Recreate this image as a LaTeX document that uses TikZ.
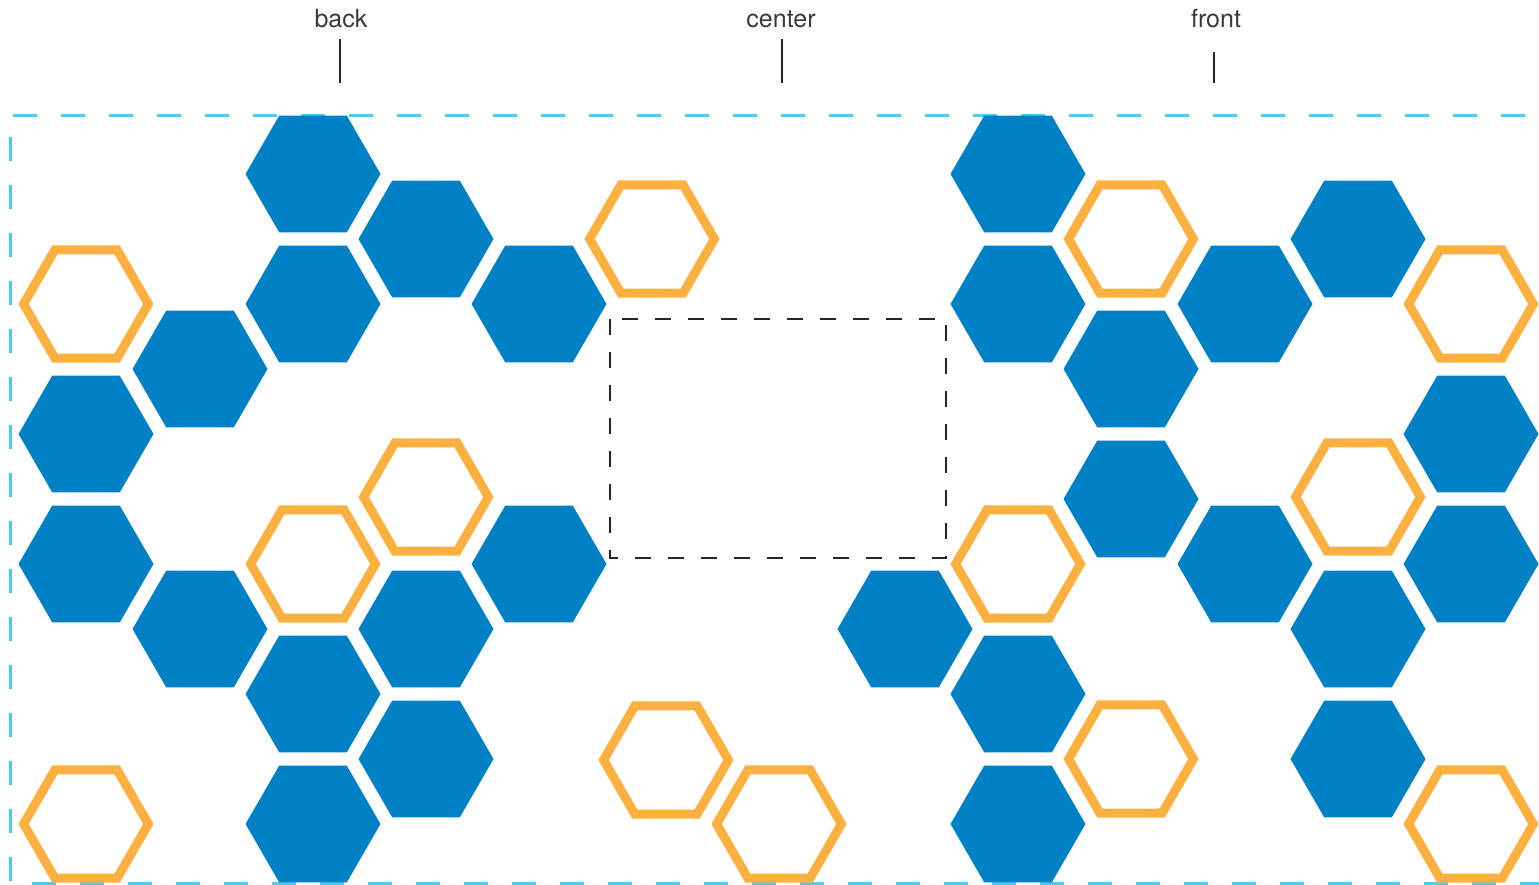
\documentclass[tikz,border=0pt]{standalone}
\usepackage{fontspec}
\setmainfont{TeX Gyre Heros}
\usetikzlibrary{shapes.geometric}
\definecolor{hexblue}{HTML}{0081C6}
\definecolor{hexorange}{HTML}{FBB040}
\definecolor{frameblue}{HTML}{4FC8F2}
\definecolor{labelgray}{HTML}{3A3A3A}
\definecolor{zonegray}{HTML}{262626}
\begin{document}
\begin{tikzpicture}[x=1pt,y=-1pt,
  bluehex/.style={regular polygon, regular polygon sides=6, minimum size=135pt, inner sep=0pt, outer sep=0pt, fill=hexblue},
  orangehex/.style={regular polygon, regular polygon sides=6, minimum size=124.8pt, inner sep=0pt, outer sep=0pt, draw=hexorange, line width=9pt},
  frameline/.style={draw=frameblue, line width=3pt, dash pattern=on 24pt off 24pt},
  zone/.style={draw=zonegray, line width=2pt, dash pattern=on 16pt off 17pt},
  lab/.style={font=\fontsize{25}{30}\selectfont, text=labelgray, anchor=base, inner sep=0pt},
  tickline/.style={line width=2pt, draw=zonegray}]
\useasboundingbox (0,0) rectangle (1539,885);

% frame
\coordinate (ftl) at (13,116);
\coordinate (ftr) at (1539,116);
\coordinate (flt) at (10,137);
\coordinate (flb) at (10,885);
\coordinate (fbl) at (32,883);
\coordinate (fbr) at (1539,883);
\draw[frameline] (ftl) -- (ftr);
\draw[frameline] (flt) -- (flb);
\draw[frameline] (fbl) -- (fbr);

% labels and ticks
\node[lab] (back) at (341,28) {back};
\node[lab] (center) at (781,28) {center};
\node[lab] (front) at (1216,28) {front};
\coordinate (backA) at (340,39);   \coordinate (backB) at (340,83);
\coordinate (centerA) at (782,39); \coordinate (centerB) at (782,83);
\coordinate (frontA) at (1214,52); \coordinate (frontB) at (1214,83);
\draw[tickline] (backA) -- (backB);
\draw[tickline] (centerA) -- (centerB);
\draw[tickline] (frontA) -- (frontB);

% left cluster
\node[bluehex] (l1) at (313,174) {};
\node[bluehex] (l2) at (426,239) {};
\node[bluehex] (l3) at (313,304) {};
\node[bluehex] (l4) at (539,304) {};
\node[orangehex] (l5) at (652,239) {};
\node[orangehex] (l6) at (86,304) {};
\node[bluehex] (l7) at (200,369) {};
\node[bluehex] (l8) at (86,434) {};
\node[bluehex] (l9) at (86,564) {};
\node[bluehex] (l10) at (200,629) {};
\node[orangehex] (l11) at (313,564) {};
\node[orangehex] (l12) at (426,497) {};
\node[bluehex] (l13) at (539,564) {};
\node[bluehex] (l14) at (426,629) {};
\node[bluehex] (l15) at (313,694) {};
\node[bluehex] (l16) at (426,759) {};
\node[bluehex] (l17) at (313,824) {};
\node[orangehex] (l18) at (86,824) {};
\node[orangehex] (l19) at (666,760) {};
\node[orangehex] (l20) at (779,824) {};

% right cluster
\node[bluehex] (r1) at (1018,174) {};
\node[orangehex] (r2) at (1131,239) {};
\node[bluehex] (r3) at (1018,304) {};
\node[bluehex] (r4) at (1245,304) {};
\node[bluehex] (r5) at (1358,239) {};
\node[orangehex] (r6) at (1471,304) {};
\node[bluehex] (r7) at (1131,369) {};
\node[bluehex] (r8) at (1471,434) {};
\node[bluehex] (r9) at (1131,499) {};
\node[orangehex] (r10) at (1358,497) {};
\node[bluehex] (r11) at (1245,564) {};
\node[bluehex] (r12) at (1471,564) {};
\node[orangehex] (r13) at (1018,564) {};
\node[bluehex] (r14) at (1358,629) {};
\node[bluehex] (r15) at (905,629) {};
\node[bluehex] (r16) at (1018,694) {};
\node[orangehex] (r17) at (1131,759) {};
\node[bluehex] (r18) at (1358,759) {};
\node[bluehex] (r19) at (1018,824) {};
\node[orangehex] (r20) at (1471,824) {};

% center zone
\coordinate (zA) at (610,319);
\coordinate (zB) at (946,558);
\draw[zone] (zA) rectangle (zB);
\end{tikzpicture}
\end{document}
